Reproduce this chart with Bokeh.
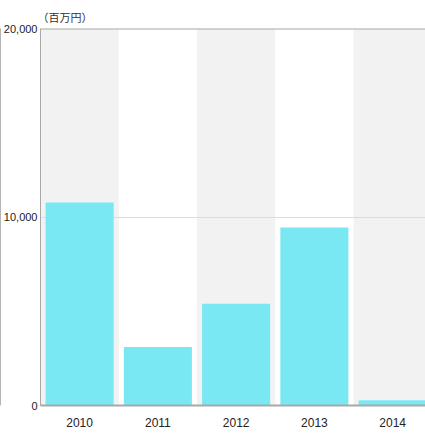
from bokeh.plotting import figure
from bokeh.models import Range1d, FixedTicker, NumeralTickFormatter, Span, LinearAxis, Title
from bokeh.embed import file_html
from bokeh.resources import INLINE

years = ["2010", "2011", "2012", "2013", "2014"]
values = [10770, 3110, 5400, 9440, 280]
y_ticks = [0, 10000, 20000]
unit_label = "（百万円）"

x_idx = list(range(len(years)))
y_max = y_ticks[-1]
LABEL_FONT = "Liberation Sans"

p = figure(width=425, height=433, output_backend="svg", toolbar_location=None,
           x_range=Range1d(-0.5, 4.42), y_range=Range1d(0, y_max),
           min_border_left=39, min_border_right=0, min_border_top=28, min_border_bottom=28)
p.outline_line_color = None
p.background_fill_color = "white"
p.border_fill_color = "white"

# alternating bands
bands = p.vbar(x=x_idx[0::2], width=1, bottom=0, top=y_max,
               fill_color="#f2f2f2", line_color=None)
bands.level = "image"

p.vbar(x=x_idx, top=values, width=0.87, fill_color="#7ae8f2", line_color=None)

p.xgrid.visible = False
p.ygrid.grid_line_color = "#dcdcdc"
p.ygrid.ticker = FixedTicker(ticks=y_ticks)

p.yaxis.ticker = FixedTicker(ticks=y_ticks)
p.yaxis.formatter = NumeralTickFormatter(format="0,0")
p.yaxis.axis_line_color = "#a8a8a8"
p.yaxis.major_tick_line_color = None
p.yaxis.minor_tick_line_color = None
p.yaxis.major_tick_out = 0
p.yaxis.major_label_standoff = 3
p.yaxis.major_label_text_font = LABEL_FONT
p.yaxis.major_label_text_font_size = "11px"
p.yaxis.major_label_text_color = "#222222"

# thin outer line on the far left
outer = LinearAxis(ticker=FixedTicker(ticks=[]), axis_line_color="#b4b4b4",
                   major_tick_line_color=None, minor_tick_line_color=None,
                   major_tick_out=0, minor_tick_out=0, major_label_text_font_size="0px")
p.add_layout(outer, "left")

p.xaxis.ticker = FixedTicker(ticks=x_idx)
p.xaxis.major_label_overrides = {i: y for i, y in zip(x_idx, years)}
p.xaxis.axis_line_color = "#a8a8a8"
p.xaxis.axis_line_width = 2
p.xaxis.major_tick_line_color = None
p.xaxis.minor_tick_line_color = None
p.xaxis.major_tick_out = 0
p.xaxis.major_label_standoff = 12
p.xaxis.major_label_text_font = LABEL_FONT
p.xaxis.major_label_text_font_size = "12px"
p.xaxis.major_label_text_color = "#222222"

p.add_layout(Span(location=y_max, dimension="width", line_color="#a8a8a0", line_width=2))

p.title = Title(text=unit_label, align="left", offset=-3, text_font_size="11px",
                text_font="Noto Sans CJK JP", text_font_style="normal",
                text_color="#333333", standoff=7)

open("out.html", "w").write(file_html(p, INLINE))
